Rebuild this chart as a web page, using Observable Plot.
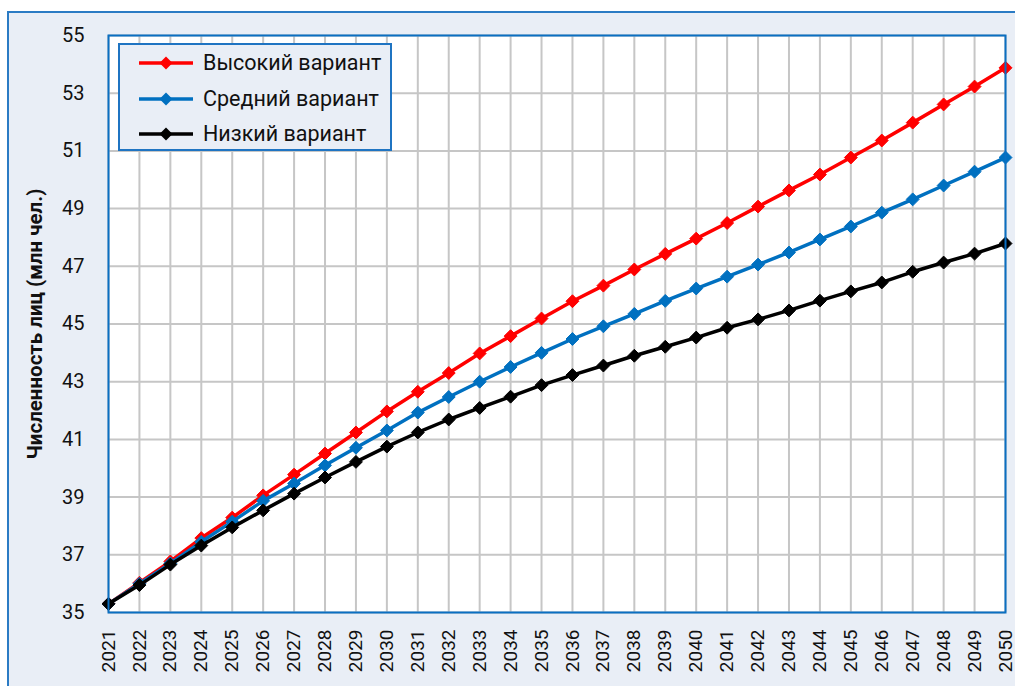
<!DOCTYPE html>
<html><head><meta charset="utf-8">
<script src="https://cdn.jsdelivr.net/npm/d3@7"></script>
<script src="https://cdn.jsdelivr.net/npm/@observablehq/plot@0.6"></script>
<style>
html,body{margin:0;padding:0;background:#fff;width:1015px;height:686px;overflow:hidden;font-family:Roboto,sans-serif;}
#outer{position:absolute;left:7px;top:11px;width:1020px;height:690px;box-sizing:border-box;border:2px solid #2b7bc4;background:#e9eef6;}
#chart{position:absolute;left:0;top:0;}
#legend{position:absolute;left:118px;top:43px;width:274px;height:108px;box-sizing:border-box;border:2px solid #1f74c2;background:#e9eef6;}
.row{position:absolute;left:0;height:30px;width:270px;}
.row svg{position:absolute;left:18px;top:0;}
.row span{position:absolute;left:83px;top:2px;font-size:21.5px;color:#111;white-space:nowrap;}
</style></head><body>
<div id="outer"></div>
<div id="chart"></div>
<div id="legend"></div>
<script>
const years = [2021,2022,2023,2024,2025,2026,2027,2028,2029,2030,2031,2032,2033,2034,2035,2036,2037,2038,2039,2040,2041,2042,2043,2044,2045,2046,2047,2048,2049,2050];
const high = [35.3,36.03,36.77,37.58,38.29,39.06,39.78,40.51,41.24,41.97,42.65,43.3,43.98,44.58,45.19,45.79,46.33,46.89,47.43,47.96,48.5,49.07,49.63,50.18,50.77,51.36,51.98,52.61,53.23,53.88];
const mid = [35.3,36.0,36.7,37.45,38.15,38.87,39.47,40.1,40.71,41.31,41.93,42.47,43.0,43.51,44.0,44.48,44.92,45.35,45.8,46.23,46.64,47.06,47.48,47.93,48.38,48.86,49.32,49.8,50.28,50.77];
const low = [35.3,35.95,36.66,37.32,37.95,38.54,39.12,39.68,40.22,40.75,41.24,41.69,42.09,42.48,42.88,43.23,43.56,43.9,44.21,44.53,44.87,45.16,45.47,45.81,46.13,46.44,46.81,47.13,47.44,47.79];
const seriesNames = ["Высокий вариант","Средний вариант","Низкий вариант"];
const seriesColors = ["#ff0000","#0070c0","#000000"];
const yTicks = [35,37,39,41,43,45,47,49,51,53,55];
const yTitle = "Численность лиц (млн чел.)";

const seriesValues = [high, mid, low];
const data = [];
seriesNames.forEach((name, i) => years.forEach((yr, j) => data.push({series: name, year: yr, value: seriesValues[i][j]})));

const marks = [
  Plot.frame({fill: "white"}),
  Plot.gridX({ticks: years, stroke: "#c6c6c6", strokeOpacity: 1, strokeWidth: 2}),
  Plot.gridY({ticks: yTicks, stroke: "#c6c6c6", strokeOpacity: 1, strokeWidth: 2}),
];
seriesNames.forEach((name, i) => {
  const d = data.filter(r => r.series === name);
  marks.push(Plot.line(d, {x: "year", y: "value", stroke: seriesColors[i], strokeWidth: 3.5}));
  marks.push(Plot.dot(d, {x: "year", y: "value", symbol: "diamond2", fill: seriesColors[i], stroke: seriesColors[i], strokeWidth: 1, r: 5.8}));
});
marks.push(Plot.frame({stroke: "#0a6fc2", strokeWidth: 2}));
marks.push(Plot.axisY({ticks: yTicks, tickSize: 0, tickPadding: 24, label: null, fontSize: 20}));
marks.push(Plot.axisX({ticks: years, tickFormat: d => String(d), tickRotate: -90, tickSize: 0, tickPadding: 17, label: null, fontSize: 19}));
marks.push(Plot.text([yTitle], {frameAnchor: "left", textAnchor: "middle", rotate: -90, dx: -73, text: d => d, fontWeight: "bold", fontSize: 20.5, fill: "#111"}));

const chart = Plot.plot({
  width: 1015, height: 686,
  marginLeft: 108, marginRight: 10, marginTop: 35, marginBottom: 74,
  x: {domain: [2021, 2050], type: "linear"},
  y: {domain: [35, 55]},
  style: {background: "transparent", fontFamily: "Roboto, sans-serif", color: "#111"},
  marks
});
document.getElementById("chart").appendChild(chart);

const legend = document.getElementById("legend");
seriesNames.forEach((name, i) => {
  const row = document.createElement("div");
  row.className = "row";
  row.style.top = (3 + i * 35.5) + "px";
  row.innerHTML = `<svg width="56" height="30"><line x1="1" y1="15" x2="55" y2="15" stroke="${seriesColors[i]}" stroke-width="3.5"/><path d="M28,8.5 L34.5,15 L28,21.5 L21.5,15 Z" fill="${seriesColors[i]}"/></svg><span>${name}</span>`;
  legend.appendChild(row);
});
</script>
</body></html>
